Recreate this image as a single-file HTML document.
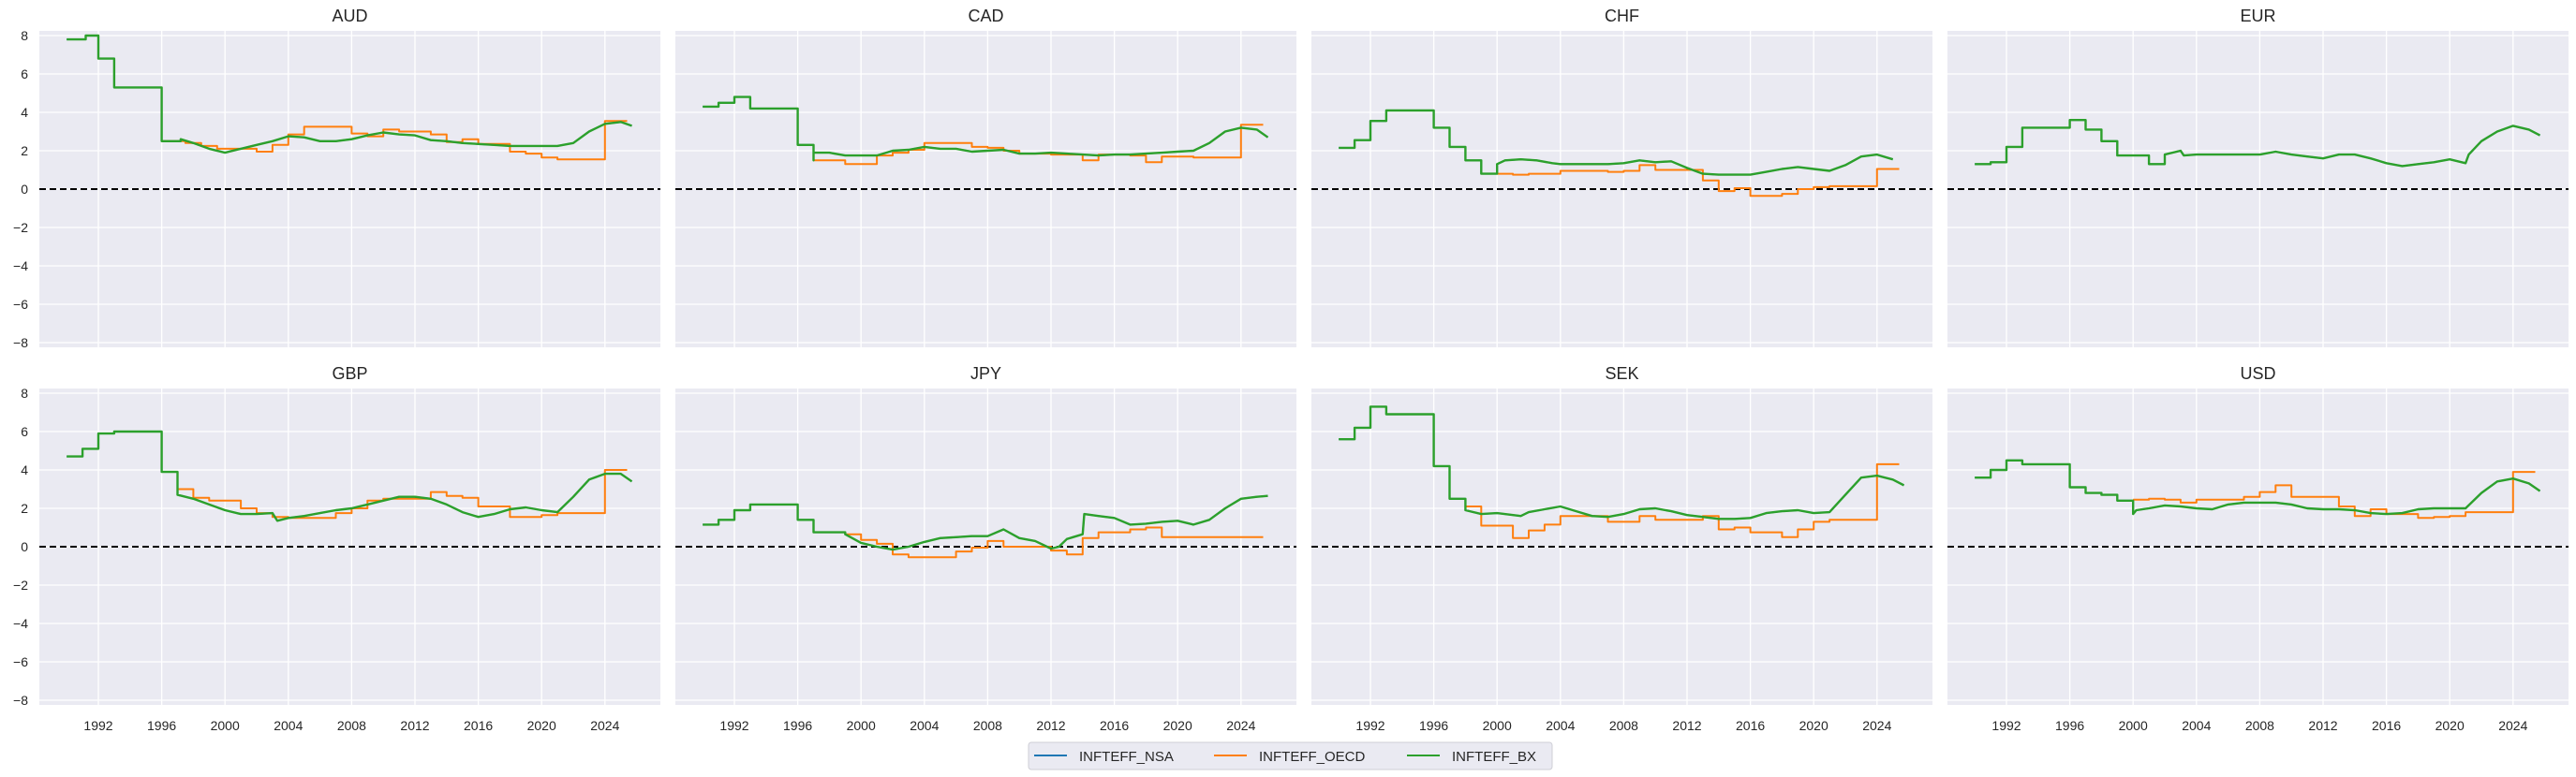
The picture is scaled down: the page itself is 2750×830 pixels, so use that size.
<!DOCTYPE html>
<html><head><meta charset="utf-8">
<style>
html,body{margin:0;padding:0;background:#fff;}
svg{display:block;}
text{font-family:"Liberation Sans",sans-serif;fill:#262626;}
</style></head>
<body>
<svg id="s" width="2750" height="830" xmlns="http://www.w3.org/2000/svg"></svg>
<script>
const S=document.getElementById('s');
const NS='http://www.w3.org/2000/svg';
function el(t,a,txt){const e=document.createElementNS(NS,t);for(const k in a)e.setAttribute(k,a[k]);if(txt!==undefined)e.textContent=txt;S.appendChild(e);return e;}
const lefts=[42,721,1400,2079], W=663;
const tops=[33,415], H=338, zeros=[202,584], U=20.5;
function X(p,yr){return lefts[p]+63+(yr-1992)*16.9;}
function Y(r,v){return zeros[r]-v*U;}
// steps: [[x,v],...], end
function stepPts(st,end){const pts=[];for(let i=0;i<st.length;i++){const x0=st[i][0],x1=i+1<st.length?st[i+1][0]:end;pts.push([x0,st[i][1]]);pts.push([x1,st[i][1]]);}return pts;}
function path(p,r,pts,col,w){let d='';pts.forEach((q,i)=>{d+=(i?'L':'M')+X(p,q[0]).toFixed(1)+','+Y(r,q[1]).toFixed(1);});el('path',{d:d,fill:'none',stroke:col,'stroke-width':w,'stroke-linejoin':'round'});}
function smooth(a){return a.map(q=>q);}
const P=[
{n:'AUD',
 gs:[[1990,7.8],[1991.2,8.0],[1992,6.8],[1993,5.3],[1996,2.5],[1997.2,2.5]],
 g:[[1997.2,2.6],[1998,2.4],[1999,2.1],[2000,1.9],[2001,2.1],[2002,2.3],[2003,2.5],[2004,2.75],[2005,2.7],[2006,2.5],[2007,2.5],[2008,2.6],[2009,2.8],[2010,2.95],[2011,2.85],[2012,2.8],[2013,2.55],[2014,2.5],[2015,2.4],[2016,2.35],[2017,2.3],[2018,2.25],[2019,2.25],[2020,2.25],[2021,2.25],[2022,2.4],[2023,3.0],[2024,3.4],[2025,3.5],[2025.7,3.3]],
 o:[[1996,2.5],[1997.5,2.4],[1998.5,2.25],[1999.5,2.1],[2001,2.1],[2002,1.95],[2003,2.3],[2004,2.85],[2005,3.25],[2008,2.9],[2009,2.75],[2010,3.1],[2011,3.0],[2013,2.85],[2014,2.45],[2015,2.6],[2016,2.35],[2018,1.95],[2019,1.85],[2020,1.65],[2021,1.55],[2024,3.55]]},
{n:'CAD',
 gs:[[1990,4.3],[1991,4.5],[1992,4.8],[1993,4.2],[1996,2.3],[1997,1.5]],
 g:[[1997,1.9],[1998,1.9],[1999,1.75],[2000,1.75],[2001,1.75],[2002,2.0],[2003,2.05],[2004,2.2],[2005,2.1],[2006,2.1],[2007,1.95],[2008,2.0],[2009,2.05],[2010,1.85],[2011,1.85],[2012,1.9],[2013,1.85],[2014,1.8],[2015,1.75],[2016,1.8],[2017,1.8],[2018,1.85],[2019,1.9],[2020,1.95],[2021,2.0],[2022,2.4],[2023,3.0],[2024,3.2],[2025,3.1],[2025.7,2.7]],
 o:[[1997,1.5],[1998,1.5],[1999,1.3],[2001,1.75],[2002,1.9],[2003,2.05],[2004,2.4],[2007,2.2],[2008,2.15],[2009,2.0],[2010,1.85],[2012,1.8],[2014,1.5],[2015,1.8],[2017,1.75],[2018,1.4],[2019,1.7],[2021,1.65],[2024,3.35]]},
{n:'CHF',
 gs:[[1990,2.15],[1991,2.55],[1992,3.55],[1993,4.1],[1996,3.2],[1997,2.2],[1998,1.5],[1999,0.8],[2000,0.8]],
 g:[[2000,1.3],[2000.5,1.5],[2001.5,1.55],[2002.5,1.5],[2003.5,1.35],[2004,1.3],[2005,1.3],[2006,1.3],[2007,1.3],[2008,1.35],[2009,1.5],[2010,1.4],[2011,1.45],[2012,1.1],[2013,0.8],[2014,0.75],[2015,0.75],[2016,0.75],[2017,0.9],[2018,1.05],[2019,1.15],[2020,1.05],[2021,0.95],[2022,1.25],[2023,1.7],[2024,1.8],[2025,1.55]],
 o:[[2000,0.8],[2001,0.75],[2002,0.8],[2004,0.95],[2007,0.9],[2008,0.95],[2009,1.25],[2010,1.0],[2013,0.45],[2014,-0.1],[2015,0.05],[2016,-0.35],[2018,-0.25],[2019,0.0],[2020,0.1],[2021,0.15],[2024,1.05]]},
{n:'EUR',
 gs:[[1990,1.3],[1991,1.4],[1992,2.2],[1993,3.2],[1996,3.6],[1997,3.1],[1998,2.5],[1999,1.75],[2001,1.3],[2002,1.3]],
 g:[[2002,1.8],[2003,2.0],[2003.2,1.75],[2004,1.8],[2006,1.8],[2008,1.8],[2009,1.95],[2010,1.8],[2011,1.7],[2012,1.6],[2013,1.8],[2014,1.8],[2015,1.6],[2016,1.35],[2017,1.2],[2018,1.3],[2019,1.4],[2020,1.55],[2021,1.35],[2021.2,1.8],[2022,2.5],[2023,3.0],[2024,3.3],[2025,3.1],[2025.7,2.8]],
 o:null},
{n:'GBP',
 gs:[[1990,4.7],[1991,5.1],[1992,5.9],[1993,6.0],[1996,3.9],[1997,2.7]],
 g:[[1997,2.7],[1998,2.5],[1999,2.2],[2000,1.9],[2001,1.7],[2002,1.7],[2003,1.75],[2003.3,1.35],[2004,1.5],[2005,1.6],[2006,1.75],[2007,1.9],[2008,2.0],[2009,2.2],[2010,2.4],[2011,2.6],[2012,2.6],[2013,2.5],[2014,2.2],[2015,1.8],[2016,1.55],[2017,1.7],[2018,1.95],[2019,2.05],[2020,1.9],[2021,1.8],[2022,2.6],[2023,3.5],[2024,3.8],[2025,3.8],[2025.7,3.4]],
 o:[[1997,3.0],[1998,2.55],[1999,2.4],[2001,2.0],[2002,1.75],[2003,1.55],[2004,1.5],[2007,1.75],[2008,2.0],[2009,2.4],[2010,2.5],[2013,2.85],[2014,2.65],[2015,2.55],[2016,2.1],[2018,1.55],[2020,1.65],[2021,1.75],[2024,4.0]]},
{n:'JPY',
 gs:[[1990,1.15],[1991,1.4],[1992,1.9],[1993,2.2],[1996,1.4],[1997,0.75],[1999,0.65]],
 g:[[1999,0.65],[2000,0.2],[2001,0.0],[2002,-0.15],[2003,0.0],[2004,0.25],[2005,0.45],[2006,0.5],[2007,0.55],[2008,0.55],[2009,0.9],[2010,0.45],[2011,0.3],[2012,-0.1],[2012.5,0.0],[2013,0.4],[2014,0.65],[2014.1,1.7],[2015,1.6],[2016,1.5],[2017,1.15],[2018,1.2],[2019,1.3],[2020,1.35],[2021,1.15],[2022,1.4],[2023,2.0],[2024,2.5],[2025,2.6],[2025.7,2.65]],
 o:[[1999,0.65],[2000,0.35],[2001,0.15],[2002,-0.4],[2003,-0.55],[2006,-0.25],[2007,-0.05],[2008,0.3],[2009,0.0],[2012,-0.2],[2013,-0.4],[2014,0.45],[2015,0.75],[2017,0.9],[2018,1.0],[2019,0.5]]},
{n:'SEK',
 gs:[[1990,5.6],[1991,6.2],[1992,7.3],[1993,6.9],[1996,4.2],[1997,2.5],[1998,1.9]],
 g:[[1998,1.9],[1999,1.7],[2000,1.75],[2001.5,1.6],[2002,1.8],[2003,1.95],[2004,2.1],[2005,1.85],[2006,1.6],[2007,1.55],[2008,1.7],[2009,1.95],[2010,2.0],[2011,1.85],[2012,1.65],[2013,1.55],[2014,1.45],[2015,1.45],[2016,1.5],[2017,1.75],[2018,1.85],[2019,1.9],[2020,1.75],[2021,1.8],[2022,2.7],[2023,3.6],[2024,3.7],[2025,3.5],[2025.7,3.2]],
 o:[[1998,2.1],[1999,1.1],[2001,0.45],[2002,0.85],[2003,1.15],[2004,1.6],[2007,1.3],[2009,1.6],[2010,1.4],[2013,1.6],[2014,0.9],[2015,1.0],[2016,0.75],[2018,0.5],[2019,0.9],[2020,1.3],[2021,1.4],[2024,4.3]]},
{n:'USD',
 gs:[[1990,3.6],[1991,4.0],[1992,4.5],[1993,4.3],[1996,3.1],[1997,2.8],[1998,2.7],[1999,2.4],[2000,1.7]],
 g:[[2000,1.7],[2000.2,1.9],[2001,2.0],[2002,2.15],[2003,2.1],[2004,2.0],[2005,1.95],[2006,2.2],[2007,2.3],[2008,2.3],[2009,2.3],[2010,2.2],[2011,2.0],[2012,1.95],[2013,1.95],[2014,1.9],[2015,1.75],[2016,1.7],[2017,1.75],[2018,1.95],[2019,2.0],[2020,2.0],[2021,2.0],[2022,2.8],[2023,3.4],[2024,3.55],[2025,3.3],[2025.7,2.9]],
 o:[[2000,2.45],[2001,2.5],[2002,2.45],[2003,2.3],[2004,2.45],[2007,2.6],[2008,2.85],[2009,3.2],[2010,2.6],[2013,2.1],[2014,1.6],[2015,1.95],[2016,1.7],[2018,1.5],[2019,1.55],[2020,1.6],[2021,1.8],[2024,3.9]]}
];
P.forEach((d,i)=>{
  const p=i%4,r=Math.floor(i/4),L=lefts[p],T=tops[r];
  el('rect',{x:L,y:T,width:W,height:H,fill:'#eaeaf2'});
  for(let v=-8;v<=8;v+=2){const y=Y(r,v);el('line',{x1:L,x2:L+W,y1:y,y2:y,stroke:'#fff','stroke-width':1.3});
    if(p==0)el('text',{x:L-12,y:y+5,'text-anchor':'end','font-size':14},(v<0?'\u22120'.slice(0,1)+(-v):v));}
  for(let yr=1992;yr<=2024;yr+=4){const x=X(p,yr);el('line',{x1:x,x2:x,y1:T,y2:T+H,stroke:'#fff','stroke-width':1.3});
    if(r==1)el('text',{x:x,y:780,'text-anchor':'middle','font-size':14},yr);}
  el('text',{x:L+W/2,y:T-10,'text-anchor':'middle','font-size':18},d.n);
  const z=zeros[r];
  el('line',{x1:L,x2:L+W,y1:z,y2:z,stroke:'#000','stroke-width':2,'stroke-dasharray':'7,4'});
  const gp=stepPts(d.gs,d.g[0][0]).concat(d.g);
  path(p,r,gp,'#1f77b4',1.8);
  if(d.o)path(p,r,stepPts(d.o,2025.4),'#ff7f0e',2);
  path(p,r,gp,'#2ca02c',2.4);
});
// legend
el('rect',{x:1098,y:793,width:559,height:29,rx:3,fill:'#eaeaf2',stroke:'#cfcfd6','stroke-width':1});
[[1104,'#1f77b4','INFTEFF_NSA'],[1296,'#ff7f0e','INFTEFF_OECD'],[1502,'#2ca02c','INFTEFF_BX']].forEach(q=>{
  el('line',{x1:q[0],x2:q[0]+35,y1:807,y2:807,stroke:q[1],'stroke-width':2});
  el('text',{x:q[0]+48,y:813,'font-size':15},q[2]);
});
</script>
</body></html>
